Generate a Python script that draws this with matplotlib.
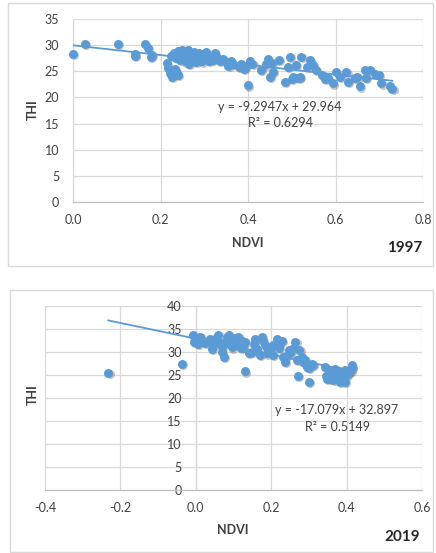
import matplotlib
matplotlib.use('Agg')
import matplotlib.pyplot as plt
from matplotlib.patches import Rectangle
import matplotlib.transforms as mtrans

plt.rcParams['font.family'] = ['Lato', 'DejaVu Sans']

# ---------------- data ----------------
ndvi_1997 = [0.000, 0.027, 0.102, 0.141, 0.142, 0.164, 0.172, 0.180, 0.178,
             0.214, 0.216, 0.222, 0.226, 0.232, 0.240, 0.237, 0.225, 0.230, 0.236,
             0.240, 0.245, 0.248, 0.252, 0.255, 0.258, 0.262, 0.265, 0.268, 0.272,
             0.276, 0.280, 0.283, 0.288, 0.290, 0.295, 0.298, 0.302, 0.305, 0.310,
             0.315, 0.320, 0.325, 0.330, 0.335, 0.342, 0.350, 0.355, 0.360, 0.365,
             0.380, 0.385, 0.390, 0.395, 0.400, 0.405, 0.410,
             0.430, 0.446, 0.450, 0.457, 0.471, 0.484, 0.495, 0.491, 0.503, 0.510,
             0.518, 0.522, 0.541, 0.549, 0.556, 0.568, 0.583, 0.594, 0.602, 0.625,
             0.629, 0.644, 0.655, 0.667, 0.678, 0.670, 0.700, 0.705, 0.724, 0.730,
             0.440, 0.455, 0.500, 0.515, 0.535, 0.575, 0.610, 0.650, 0.690]
thi_1997 = [28.4, 30.2, 30.2, 28.3, 28.0, 30.2, 29.4, 28.1, 27.8,
            26.5, 25.6, 24.6, 23.9, 25.4, 24.3, 24.6, 28.0, 28.5, 27.6,
            28.9, 27.2, 29.0, 28.1, 26.9, 27.6, 29.0, 26.4, 28.3, 27.4,
            28.6, 26.8, 27.9, 28.5, 27.2, 26.9, 28.3, 27.6, 28.6, 27.0,
            27.8, 27.2, 28.5, 27.5, 27.0, 27.4, 26.8, 26.1, 27.0, 26.4,
            25.9, 26.3, 25.5, 26.0, 22.3, 26.9, 26.4,
            25.3, 27.4, 24.0, 24.9, 27.2, 23.0, 27.7, 25.9, 24.0, 26.2,
            24.0, 27.7, 27.2, 26.2, 25.3, 24.3, 23.7, 22.7, 24.8, 24.8,
            23.0, 23.7, 22.1, 25.3, 25.3, 23.7, 24.3, 22.7, 22.1, 21.6,
            26.3, 26.6, 23.5, 23.8, 25.8, 23.5, 24.0, 23.9, 24.5]

ndvi_2019 = [-0.232, -0.037, 0.131,
             -0.008, -0.004, 0.012, 0.020, 0.038, 0.042, 0.056, 0.060, 0.069, 0.069,
             0.075, 0.082, 0.087, 0.091, 0.100, 0.109, 0.113, 0.122, 0.119, 0.131,
             0.149, 0.158, 0.162, 0.171, 0.175, 0.184, 0.188, 0.197, 0.206, 0.215,
             0.219, 0.228, 0.231, 0.237, 0.246, 0.250, 0.264, 0.268, 0.271, 0.275,
             0.281, 0.290, 0.299, 0.295, 0.308, 0.343, 0.348, 0.352, 0.357, 0.370,
             0.374, 0.383, 0.388, 0.396, 0.401, 0.410, 0.414,
             0.005, 0.025, 0.045, 0.050, 0.070, 0.095, 0.105, 0.125, 0.140, 0.155,
             0.178, 0.190, 0.205, 0.220, 0.240, 0.255, 0.285, 0.300, 0.310, 0.345,
             0.360, 0.365, 0.380, 0.390, 0.405, 0.415, 0.395]
thi_2019 = [25.5, 27.5, 25.8,
            33.8, 32.2, 33.3, 32.5, 32.9, 30.6, 32.5, 33.6, 31.1, 30.0,
            28.9, 33.3, 33.6, 31.8, 32.9, 31.5, 33.3, 32.5, 30.9, 32.2,
            30.0, 32.9, 30.7, 29.3, 33.3, 31.5, 29.7, 30.4, 31.5, 32.9,
            31.8, 32.5, 28.9, 27.8, 30.4, 29.7, 32.2, 28.2, 24.8, 30.4,
            28.9, 28.2, 23.5, 26.8, 27.5, 26.8, 24.2, 25.3, 24.2, 26.4,
            25.3, 23.5, 25.3, 23.5, 25.0, 26.0, 27.1,
            31.8, 31.9, 31.5, 32.8, 32.0, 31.0, 33.1, 31.2, 29.8, 31.8,
            32.5, 30.8, 29.3, 30.9, 29.1, 30.6, 27.8, 26.5, 27.2, 24.8,
            25.8, 23.9, 25.9, 24.4, 25.6, 26.5, 26.0]

# trendline coefficients as printed on the chart
slope_1997, intercept_1997, r2_1997 = -9.2947, 29.964, 0.6294
slope_2019, intercept_2019, r2_2019 = -17.079, 32.897, 0.5149

xticks_1997 = [0.0, 0.2, 0.4, 0.6, 0.8]
yticks_1997 = [0, 5, 10, 15, 20, 25, 30, 35]
xticks_2019 = [-0.4, -0.2, 0.0, 0.2, 0.4, 0.6]
yticks_2019 = [0, 5, 10, 15, 20, 25, 30, 35, 40]

# ---------------- figure ----------------
W, H = 436, 553
fig = plt.figure(figsize=(W / 100, H / 100), dpi=100)

BLUE = '#5B9BD5'
GRID = '#D9D9D9'
TXT = '#404040'


def ax_px(l, t, r, b):
    return fig.add_axes([l / W, 1 - b / H, (r - l) / W, (b - t) / H])


def frame(l, t, r, b):
    fig.patches.append(Rectangle((l / W, 1 - b / H), (r - l) / W, (b - t) / H,
                                 transform=fig.transFigure, fill=False,
                                 edgecolor=GRID, lw=1.0, zorder=0))


def style(ax, xt, yt, xl, yl):
    ax.set_xlim(xl)
    ax.set_ylim(yl)
    ax.set_xticks(xt)
    ax.set_yticks(yt)
    ax.set_xticklabels([f'{v:.1f}' for v in xt])
    ax.set_yticklabels([f'{v:d}' for v in yt])
    for s in ['top', 'right']:
        ax.spines[s].set_visible(False)
    ax.spines['left'].set_position(('data', 0))
    ax.spines['left'].set_color(GRID)
    ax.spines['bottom'].set_color('#BFBFBF')
    ax.spines['left'].set_linewidth(0.9)
    ax.spines['bottom'].set_linewidth(0.9)
    ax.grid(True, color=GRID, lw=0.9)
    ax.set_axisbelow(True)
    ax.tick_params(length=0, labelsize=9, labelcolor=TXT)
    ax.tick_params(axis='x', pad=9)
    ax.tick_params(axis='y', pad=10)
    ax.patch.set_alpha(0)


def points(ax, x, y, slope, intercept):
    sh = mtrans.offset_copy(ax.transData, fig=fig, x=1.2, y=-1.2, units='dots')
    ax.scatter(x, y, s=42, color='#5a5a5a', alpha=0.35, lw=0, transform=sh,
               zorder=2, clip_on=False)
    ax.scatter(x, y, s=42, color=BLUE, lw=0, zorder=3, clip_on=False)
    xmin, xmax = min(x), max(x)
    ax.plot([xmin, xmax], [slope * xmin + intercept, slope * xmax + intercept],
            color=BLUE, lw=1.3, zorder=4)


# top panel (1997)
frame(8, 3, 433, 266)
ax1 = ax_px(73, 19, 423, 202)
style(ax1, xticks_1997, yticks_1997, (0, 0.8), (0, 35))
points(ax1, ndvi_1997, thi_1997, slope_1997, intercept_1997)
fig.text(280 / W, 1 - 107 / H, f'y = {slope_1997}x + {intercept_1997}',
         ha='center', va='center', fontsize=9, color=TXT)
fig.text(280 / W, 1 - 123 / H, f'R² = {r2_1997}',
         ha='center', va='center', fontsize=9, color=TXT)
fig.text(248 / W, 1 - 243 / H, 'NDVI', ha='center', va='center',
         fontsize=9, fontweight='bold', color=TXT)
fig.text(33 / W, 1 - 110 / H, 'THI', ha='center', va='center', rotation=90,
         fontsize=9, fontweight='bold', color=TXT)
fig.text(405 / W, 1 - 248 / H, '1997', ha='center', va='center',
         fontsize=11, fontweight='bold', color='#262626')

# bottom panel (2019)
frame(10, 290, 433, 552)
ax2 = ax_px(45, 306, 422, 490)
style(ax2, xticks_2019, yticks_2019, (-0.4, 0.6), (0, 40))
points(ax2, ndvi_2019, thi_2019, slope_2019, intercept_2019)
fig.text(337 / W, 1 - 410 / H, f'y = {slope_2019}x + {intercept_2019}',
         ha='center', va='center', fontsize=9, color=TXT)
fig.text(337 / W, 1 - 427 / H, f'R² = {r2_2019}',
         ha='center', va='center', fontsize=9, color=TXT)
fig.text(233 / W, 1 - 530 / H, 'NDVI', ha='center', va='center',
         fontsize=9, fontweight='bold', color=TXT)
fig.text(33 / W, 1 - 395 / H, 'THI', ha='center', va='center', rotation=90,
         fontsize=9, fontweight='bold', color=TXT)
fig.text(402 / W, 1 - 537 / H, '2019', ha='center', va='center',
         fontsize=11, fontweight='bold', color='#262626')

fig.savefig('out.png', dpi=100, facecolor='white')
